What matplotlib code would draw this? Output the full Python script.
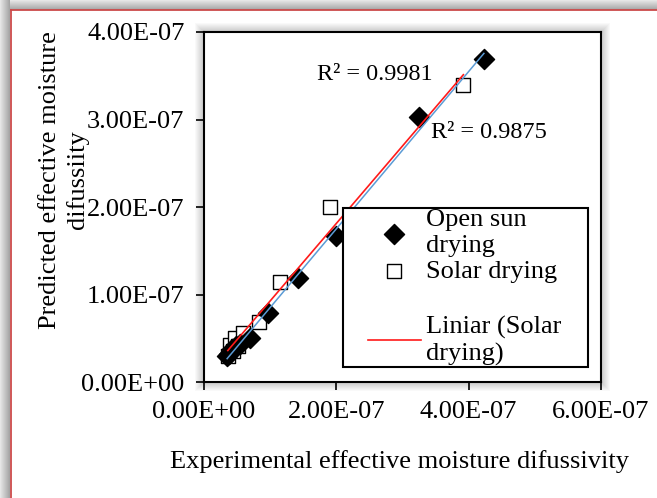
import numpy as np
import matplotlib
matplotlib.use("Agg")
import matplotlib.pyplot as plt
from matplotlib.patches import Rectangle
from matplotlib.lines import Line2D
from matplotlib.ticker import FuncFormatter

plt.rcParams['font.family'] = ['Liberation Serif', 'DejaVu Serif']

# experimental vs predicted effective moisture diffusivity (m2/s)
open_sun_exp = [0.35e-7, 0.38e-7, 0.42e-7, 0.48e-7, 0.54e-7, 0.69e-7, 0.97e-7,
                1.42e-7, 1.99e-7, 3.25e-7, 4.23e-7]
open_sun_pred = [0.30e-7, 0.32e-7, 0.38e-7, 0.41e-7, 0.43e-7, 0.50e-7, 0.79e-7,
                 1.19e-7, 1.67e-7, 3.03e-7, 3.69e-7]
solar_exp = [0.36e-7, 0.39e-7, 0.44e-7, 0.47e-7, 0.52e-7, 0.59e-7, 0.83e-7,
             1.15e-7, 1.90e-7, 3.92e-7]
solar_pred = [0.30e-7, 0.42e-7, 0.36e-7, 0.50e-7, 0.41e-7, 0.56e-7, 0.69e-7,
              1.14e-7, 2.00e-7, 3.39e-7]

r2_open = "R² = 0.9981"
r2_solar = "R² = 0.9875"

W, H = 657, 498
FS = 19
fig = plt.figure(figsize=(W / 100, H / 100), dpi=100)
fig.patch.set_facecolor('white')


def px(x0, y0, w, h, **kw):
    # rectangle given in pixel coords from the top-left corner
    r = Rectangle((x0 / W, 1 - (y0 + h) / H), w / W, h / H,
                  transform=fig.transFigure, **kw)
    fig.patches.append(r)


# grey shadow band on the left and top of the frame
for i in range(10):
    g = 0.90 - 0.028 * i
    px(i, 0, 1, H, facecolor=(g, g, g), edgecolor='none', zorder=0)
    px(i, i, W - i, 1, facecolor=(g, g, g), edgecolor='none', zorder=0)
px(10, 10, W, H, facecolor='white', edgecolor='none', zorder=0)
fig.add_artist(Line2D([10.5 / W, 10.5 / W], [0, 1 - 10.5 / H], color='#cc4a4a',
                      lw=1.3, transform=fig.transFigure))
fig.add_artist(Line2D([10.5 / W, 1], [1 - 10.5 / H, 1 - 10.5 / H], color='#cc4a4a',
                      lw=1.3, transform=fig.transFigure))

# plot area with a soft shadow around it
L, R, T, B = 204, 601, 32, 382
for i in range(1, 10):
    px(L - i, T - i, (R - L) + 2 * i, (B - T) + 2 * i,
       facecolor='black', edgecolor='none', alpha=0.022, zorder=1)

ax = fig.add_axes([L / W, 1 - B / H, (R - L) / W, (B - T) / H])
ax.set_zorder(2)

sq = ax.scatter(solar_exp, solar_pred, marker='s', s=95, facecolor='white',
                edgecolor='black', linewidth=1.0, zorder=3)
dm = ax.scatter(open_sun_exp, open_sun_pred, marker='D', s=105, facecolor='black',
                edgecolor='black', zorder=4)

# linear trend lines over each data range
xs = np.array([min(solar_exp), max(solar_exp)])
k, b = np.polyfit(solar_exp, solar_pred, 1)
red, = ax.plot(xs, k * xs + b, color='#ff1a1a', lw=1.2, zorder=5)
xo = np.array([min(open_sun_exp), max(open_sun_exp)])
k2, b2 = np.polyfit(open_sun_exp, open_sun_pred, 1)
ax.plot(xo, k2 * xo + b2, color='#5b9bd5', lw=1.1, zorder=5)

ax.set_xlim(0, 6e-7)
ax.set_ylim(0, 4e-7)
ax.set_xticks([0, 2e-7, 4e-7, 6e-7])
ax.set_yticks([0, 1e-7, 2e-7, 3e-7, 4e-7])

fmt = FuncFormatter(lambda v, pos: f"{v:.2E}")
ax.xaxis.set_major_formatter(fmt)
ax.yaxis.set_major_formatter(fmt)
ax.tick_params(direction='out', length=6, width=1.2, labelsize=FS, pad=8,
               colors='black')
for sp in ax.spines.values():
    sp.set_linewidth(1.5)


def ax_frac(x, y):
    return (x - L) / (R - L), (B - y) / (B - T)


ax.text(*ax_frac(317, 75), r2_open, transform=ax.transAxes,
        fontsize=17.5, va='center', ha='left')
ax.text(*ax_frac(431, 133), r2_solar, transform=ax.transAxes,
        fontsize=17.5, va='center', ha='left')

# legend: plain box, markers in one block and the trend line below
bx0, by0 = ax_frac(343, 367)
bx1, by1 = ax_frac(588, 208)
ax.add_patch(Rectangle((bx0, by0), bx1 - bx0, by1 - by0, transform=ax.transAxes,
                       facecolor='white', edgecolor='black', lw=1.5, zorder=9))
leg_kw = dict(loc='upper left', fontsize=FS, frameon=False, borderpad=0.0,
              handlelength=2.0, handletextpad=0.2, borderaxespad=0)
leg1 = ax.legend([dm, sq], ['Open sun\ndrying', 'Solar drying'],
                 bbox_to_anchor=ax_frac(368, 209), labelspacing=0.1, **leg_kw)
leg1.set_zorder(10)
ax.add_artist(leg1)
leg2 = ax.legend([red], ['Liniar (Solar\ndrying)'],
                 bbox_to_anchor=ax_frac(368, 316), **leg_kw)
leg2.set_zorder(10)
for lg in (leg1, leg2):
    for t in lg.get_texts():
        t.set_linespacing(1.22)

fig.text(400 / W, 1 - 462 / H, "Experimental effective moisture difussivity",
         fontsize=FS, ha='center', va='center')
fig.text(64 / W, 1 - 180 / H, "Predicted effective moisture\ndifussiity",
         fontsize=FS, ha='center', va='center', rotation=90, linespacing=1.25)

fig.savefig("out.png", dpi=100)
